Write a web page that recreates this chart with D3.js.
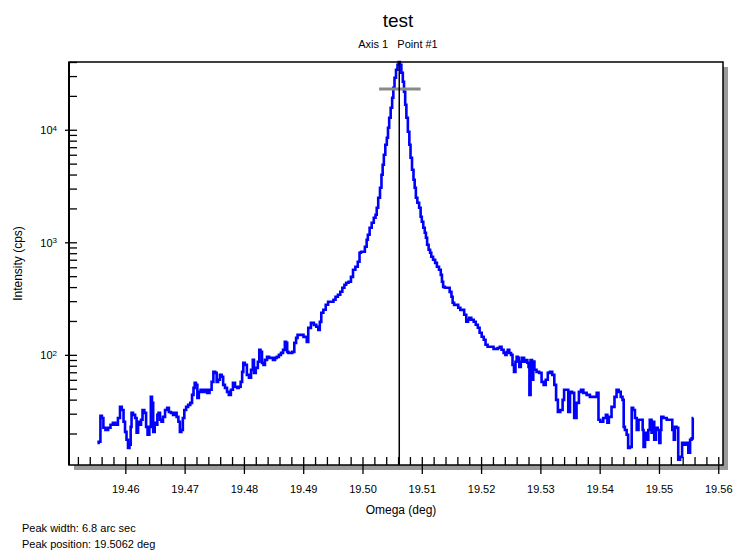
<!DOCTYPE html>
<html>
<head>
<meta charset="utf-8">
<script src="https://cdn.jsdelivr.net/npm/d3@7/dist/d3.min.js"></script>
<style>
  html, body { margin: 0; padding: 0; background: #fff; }
  svg { display: block; }
  text { font-family: "Liberation Sans", Arial, sans-serif; fill: #000; }
</style>
</head>
<body>
<svg id="chart" width="736" height="550"></svg>
<script>
// ---- data ----
const omega = [
19.4553,19.4557,19.4559,19.4562,19.4564,19.4569,19.4573,19.4577,19.4581,19.4585,
19.4590,19.4592,19.4596,19.4598,19.4601,19.4603,19.4606,19.4608,19.4610,19.4611,
19.4615,19.4618,19.4620,19.4623,19.4625,19.4628,19.4630,19.4634,19.4636,19.4639,
19.4642,19.4644,19.4646,19.4648,19.4651,19.4653,19.4655,19.4657,19.4660,19.4662,
19.4665,19.4669,19.4672,19.4675,19.4679,19.4682,19.4685,19.4688,19.4691,19.4693,
19.4696,19.4698,19.4701,19.4704,19.4708,19.4711,19.4714,19.4716,19.4718,19.4720,
19.4723,19.4725,19.4729,19.4731,19.4736,19.4740,19.4744,19.4747,19.4750,19.4753,
19.4755,19.4758,19.4761,19.4764,19.4766,19.4770,19.4773,19.4776,19.4780,19.4783,
19.4787,19.4790,19.4793,19.4796,19.4798,19.4800,19.4803,19.4807,19.4810,19.4814,
19.4816,19.4818,19.4822,19.4825,19.4827,19.4829,19.4832,19.4834,19.4837,19.4841,
19.4844,19.4847,19.4851,19.4854,19.4857,19.4861,19.4864,19.4868,19.4870,19.4872,
19.4874,19.4876,19.4880,19.4883,19.4887,19.4889,19.4892,19.4896,19.4899,19.4902,
19.4905,19.4907,19.4910,19.4916,19.4920,19.4924,19.4927,19.4929,19.4932,19.4936,
19.4940,19.4944,19.4949,19.4953,19.4956,19.4961,19.4964,19.4968,19.4971,19.4974,
19.4979,19.4982,19.4986,19.4990,19.4994,19.4996,19.4999,19.5002,19.5006,19.5008,
19.5010,19.5014,19.5017,19.5021,19.5023,19.5025,19.5028,19.5031,19.5033,19.5035,
19.5037,19.5040,19.5042,19.5044,19.5046,19.5049,19.5051,19.5053,19.5055,19.5058,
19.5060,19.5062,19.5064,19.5067,19.5069,19.5071,19.5073,19.5075,19.5078,19.5080,
19.5082,19.5085,19.5087,19.5089,19.5091,19.5094,19.5097,19.5099,19.5101,19.5104,
19.5106,19.5108,19.5110,19.5113,19.5115,19.5117,19.5121,19.5124,19.5127,19.5131,
19.5133,19.5135,19.5137,19.5141,19.5145,19.5149,19.5151,19.5153,19.5156,19.5160,
19.5163,19.5167,19.5170,19.5173,19.5177,19.5179,19.5181,19.5186,19.5189,19.5193,
19.5196,19.5199,19.5203,19.5206,19.5209,19.5213,19.5216,19.5219,19.5223,19.5226,
19.5230,19.5233,19.5236,19.5240,19.5242,19.5244,19.5246,19.5249,19.5252,19.5254,
19.5257,19.5259,19.5261,19.5263,19.5266,19.5268,19.5271,19.5274,19.5277,19.5279,
19.5281,19.5282,19.5285,19.5287,19.5289,19.5291,19.5296,19.5300,19.5304,19.5307,
19.5311,19.5314,19.5318,19.5322,19.5325,19.5328,19.5331,19.5336,19.5339,19.5341,
19.5346,19.5348,19.5352,19.5355,19.5359,19.5363,19.5367,19.5370,19.5375,19.5381,
19.5386,19.5393,19.5397,19.5399,19.5403,19.5409,19.5412,19.5414,19.5417,19.5423,
19.5427,19.5430,19.5434,19.5437,19.5440,19.5441,19.5444,19.5447,19.5449,19.5453,
19.5455,19.5458,19.5461,19.5464,19.5467,19.5472,19.5473,19.5475,19.5478,19.5481,
19.5483,19.5486,19.5489,19.5491,19.5493,19.5497,19.5499,19.5502,19.5503,19.5505,
19.5510,19.5516,19.5521,19.5524,19.5526,19.5528,19.5531,19.5534,19.5537,19.5541,
19.5544,19.5548,19.5551,19.5554,19.5556,19.5558
];
const intensity = [
16.5,16.9,28.7,27.5,22.5,21.5,22.5,23.9,24.9,23.9,
27.5,34.5,32.4,25.4,20.7,17.6,14.9,15.9,22.9,30.5,
29.3,27.5,20.3,25.4,23.9,26.5,32.4,30.5,22.9,19.5,
22.9,42.3,37.4,20.7,24.9,23.9,29.3,30.5,26.5,25.4,
28.1,32.4,33.8,31.1,30.5,29.3,30.5,28.1,25.4,20.7,
21.5,27.5,32.4,34.5,35.9,37.4,44.1,50.9,56.4,54.1,
41.5,46.9,48.9,46.9,48.9,45.9,48.9,57.5,70.6,69.2,
57.5,60.0,66.4,63.8,54.1,50.9,46.9,44.1,48.9,56.4,
52.0,50.9,52.0,57.5,70.6,84.9,81.5,66.4,62.5,73.6,
90.3,69.2,76.6,86.7,110.8,106.3,84.9,81.5,90.3,96.0,
94.0,94.0,90.3,94.0,96.0,100,104.2,110.8,130.5,127.8,
106.3,104.2,104.2,106.3,127.8,141.6,150.6,150.6,150.6,144.5,
144.5,130.5,173.8,192.5,184.8,177.4,166.8,196.5,236.3,251.2,
278.3,295.9,295.9,308.3,327.8,341.5,363.1,394.1,419,436.5,
445.6,493.4,569.6,605.6,671,806.6,823.6,823.6,912,1052,
1166,1346,1491,1651,1755,2027,2486,3051,3981,4886,
5995,7356,8490,10418,12786,15692,19249,23625,28980,34145,
37830,40000,37830,32117,26714,21764,16681,12786,9600,7356,
5638,4410,3594,3051,2486,2245,2027,1685,1521,1346,
1215,1096,950,858,807,743,699,657,606,570,
514,446,402,394,394,363,328,290,278,278,
262,251,251,227,197,205,213,205,197,185,
174,157,145,136,123,118,118,118,113,113,
115,118,111,104,100,106,111,104,100,81.5,
70.6,86.7,96,94,78,86.7,94,86.7,90,85,
78,44,90,60,87,73.6,70.6,69.2,57.5,54.1,
60,69.2,70.6,66.4,54.1,39.8,31.1,32.4,39.8,48.9,
48.9,31.1,46.9,45.9,27.5,37.4,46.9,48.9,45.9,44.1,
42.3,42.3,45.9,26.5,25.4,27.5,29.3,24.9,28.1,34.5,
42.3,48.9,46.9,42.3,39.8,22.9,21.5,19.5,14.9,15.2,
33.8,32.4,27.5,21.5,26.5,26.5,21.5,15.2,20.3,17.6,
21.5,26.5,20.3,25.4,17.6,22.5,21.5,16.5,21.5,28.1,
27.5,26.5,26.5,21.5,17.6,22.9,22.5,11.7,12.4,16.5,
15.9,16.5,13.5,17.6,18.1,27.5
];
const xTickValues = [19.46,19.47,19.48,19.49,19.50,19.51,19.52,19.53,19.54,19.55,19.56];
const yTickValues = [100, 1000, 10000];
const yTickExponents = ["2", "3", "4"];
const peakPosition = 19.5062;
const halfMaxLevel = 23000;
const halfMaxRange = [19.5028, 19.5098];
const titleText = "test";
const subtitleText = "Axis 1   Point #1";
const xLabelText = "Omega (deg)";
const yLabelText = "Intensity (cps)";
const footerLines = ["Peak width: 6.8 arc sec", "Peak position: 19.5062 deg"];

// ---- layout ----
const L = 69, R = 723, T = 62, B = 465;
const svg = d3.select("#chart");

const x = d3.scaleLinear().domain([19.4505, 19.5608]).range([L, R]);
const y = d3.scaleLog().domain([10.5, 40000]).range([B, T]);

// shadow + plot background
svg.append("rect").attr("x", L + 5).attr("y", T + 5).attr("width", R - L).attr("height", B - T)
  .attr("fill", "#9a9a9a");
svg.append("rect").attr("x", L).attr("y", T).attr("width", R - L).attr("height", B - T)
  .attr("fill", "#fff");

// clip
svg.append("clipPath").attr("id", "clip").append("rect")
  .attr("x", L).attr("y", T - 2).attr("width", R - L).attr("height", B - T + 2);

// data line
const pts = omega.map((o, i) => [o, intensity[i]]);
const line = d3.line().x(d => x(d[0])).y(d => y(d[1])).curve(d3.curveStep);
svg.append("path").datum(pts).attr("d", line)
  .attr("fill", "none").attr("stroke", "#0000ff").attr("stroke-width", 2.6)
  .attr("stroke-linejoin", "miter").attr("clip-path", "url(#clip)");

// half max marker
svg.append("line")
  .attr("x1", x(halfMaxRange[0])).attr("x2", x(halfMaxRange[1]))
  .attr("y1", y(halfMaxLevel)).attr("y2", y(halfMaxLevel))
  .attr("stroke", "#8a8a8a").attr("stroke-width", 3);

// peak line
svg.append("line")
  .attr("x1", x(peakPosition)).attr("x2", x(peakPosition))
  .attr("y1", T).attr("y2", B)
  .attr("stroke", "#000").attr("stroke-width", 1.5);

// x axis: outward major ticks + labels
const xAxis = svg.append("g").attr("transform", `translate(0,${B})`)
  .call(d3.axisBottom(x).tickValues(xTickValues).tickSize(9).tickPadding(11)
    .tickFormat(d3.format(".2f")));
xAxis.select(".domain").remove();
xAxis.selectAll("line").attr("stroke", "#000").attr("stroke-width", 1.3);
xAxis.selectAll("text").attr("font-size", 11).style("font-family", '"Liberation Sans", Arial, sans-serif');

// x axis inward minor ticks
const xMinor = d3.range(19452, 19561, 2).map(v => v / 1000);
const xIn = svg.append("g").attr("transform", `translate(0,${B})`)
  .call(d3.axisTop(x).tickValues(xMinor).tickSize(8).tickFormat(""));
xIn.select(".domain").remove();
xIn.selectAll("line").attr("stroke", "#000").attr("stroke-width", 1.3);

// y axis: outward major ticks + labels
const yAxis = svg.append("g").attr("transform", `translate(${L},0)`)
  .call(d3.axisLeft(y).tickValues(yTickValues).tickSize(4).tickPadding(9).tickFormat(""));
yAxis.select(".domain").remove();
yAxis.selectAll("line").attr("stroke", "#000").attr("stroke-width", 1.3);
yAxis.selectAll(".tick").each(function(d, i) {
  const t = d3.select(this).append("text")
    .attr("x", -12).attr("dy", "0.35em").attr("text-anchor", "end")
    .attr("font-size", 11).style("font-family", '"Liberation Sans", Arial, sans-serif');
  t.append("tspan").text("10");
  t.append("tspan").attr("dy", "-0.4em").attr("font-size", 8).text(yTickExponents[i]);
});

// y axis inward minor ticks
const yMinor = [];
[10, 100, 1000, 10000].forEach(dec => {
  for (let k = 1; k <= 9; k++) {
    const v = dec * k;
    if (v >= 10.5 && v <= 40000) yMinor.push(v);
  }
});
const yIn = svg.append("g").attr("transform", `translate(${L},0)`)
  .call(d3.axisRight(y).tickValues(yMinor).tickSize(8).tickFormat(""));
yIn.select(".domain").remove();
yIn.selectAll("line").attr("stroke", "#000").attr("stroke-width", 1.3);

// frame
svg.append("rect").attr("x", L).attr("y", T).attr("width", R - L).attr("height", B - T)
  .attr("fill", "none").attr("stroke", "#000").attr("stroke-width", 1.5);
svg.append("line").attr("x1", L).attr("x2", L).attr("y1", T).attr("y2", B)
  .attr("stroke", "#000").attr("stroke-width", 2);

// titles
const cx = (L + R) / 2 + 2;
svg.append("text").attr("x", cx).attr("y", 27).attr("text-anchor", "middle")
  .attr("font-size", 19).text(titleText);
svg.append("text").attr("x", cx).attr("y", 48).attr("text-anchor", "middle")
  .attr("font-size", 11).attr("xml:space", "preserve").style("white-space", "pre").text(subtitleText);

svg.append("text").attr("x", cx + 3).attr("y", 514).attr("text-anchor", "middle")
  .attr("font-size", 12).text(xLabelText);

svg.append("text").attr("transform", `translate(22,${(T + B) / 2}) rotate(-90)`)
  .attr("text-anchor", "middle").attr("font-size", 12).text(yLabelText);

footerLines.forEach((s, i) => {
  svg.append("text").attr("x", 22).attr("y", 532 + i * 16).attr("font-size", 11).text(s);
});
</script>
</body>
</html>
